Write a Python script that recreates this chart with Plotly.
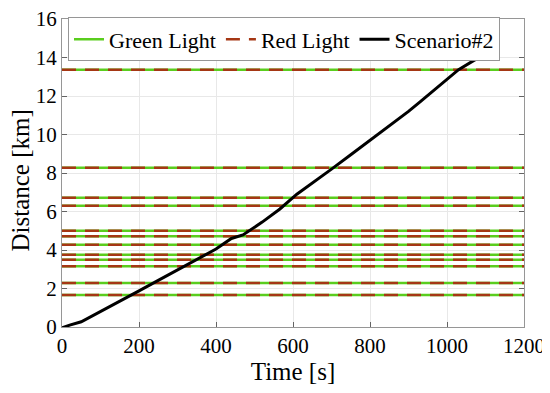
import plotly.graph_objects as go

# Traffic light positions (km)
light_pos = [13.37, 8.27, 6.71, 6.30, 5.00, 4.72, 4.27, 3.75, 3.49, 3.15, 2.29, 1.66]
t_range = [0, 1200]

# Scenario #2 trajectory
time_s = [0, 20, 50, 100, 150, 200, 250, 300, 350, 400, 440, 470, 520, 566, 610, 660,
          700, 750, 800, 850, 900, 930, 980, 1030, 1070, 1100, 1130]
dist_km = [-0.05, 0.1, 0.27, 0.82, 1.35, 1.88, 2.42, 2.97, 3.52, 4.05, 4.6, 4.78, 5.45,
           6.13, 6.9, 7.6, 8.2, 8.95, 9.7, 10.45, 11.2, 11.7, 12.55, 13.37, 13.85, 14.15,
           14.45]

FONT = "Liberation Serif"
GREEN = "rgb(90,205,30)"
RED = "rgb(165,55,20)"

lx, ly = [], []
for p in light_pos:
    lx += [t_range[0], t_range[1], None]
    ly += [p, p, None]

fig = go.Figure()
fig.add_trace(go.Scatter(x=lx, y=ly, mode="lines", name="Green Light",
                         line=dict(color=GREEN, width=2.5)))
fig.add_trace(go.Scatter(x=lx, y=ly, mode="lines", name="Red Light",
                         line=dict(color=RED, width=2.5, dash="14px,9px")))
fig.add_trace(go.Scatter(x=time_s, y=dist_km, mode="lines", name="Scenario#2",
                         line=dict(color="black", width=3)))

axis_common = dict(showline=True, linecolor="rgb(150,150,150)", linewidth=1, mirror="ticks",
                   ticks="inside", ticklen=5, tickcolor="rgb(100,100,100)",
                   showgrid=True, gridcolor="rgb(232,232,232)", gridwidth=1,
                   zeroline=False, automargin=False, ticklabeloverflow="allow",
                   tickfont=dict(family=FONT, size=21, color="black"))

# page body has an 8px default margin, so the figure is sized 542x385
fig.update_layout(
    width=542, height=385,
    margin=dict(l=54, r=26, t=9, b=66),
    paper_bgcolor="white", plot_bgcolor="white",
    font=dict(family=FONT, size=21, color="black"),
    showlegend=True,
    legend=dict(orientation="h", x=0.013, y=1.005, xanchor="left", yanchor="top",
                bgcolor="white", bordercolor="rgb(150,150,150)", borderwidth=1,
                font=dict(family=FONT, size=22, color="black"),
                itemwidth=30, tracegroupgap=0),
    xaxis=dict(range=[0, 1200], dtick=200,
               title=dict(text="Time [s]", font=dict(family=FONT, size=25), standoff=0),
               **axis_common),
    yaxis=dict(range=[0, 16], dtick=2, **axis_common),
    annotations=[dict(text="Distance [km]", xref="paper", yref="paper",
                      x=-0.090, y=0.477, xanchor="center", yanchor="middle",
                      textangle=-90, showarrow=False,
                      font=dict(family=FONT, size=25, color="black"))],
)

fig.write_html("out.html")
